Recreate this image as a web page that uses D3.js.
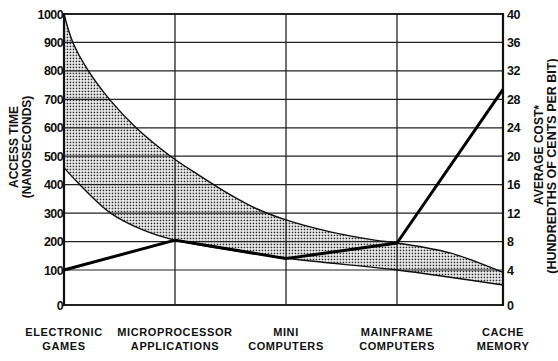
<!DOCTYPE html>
<html>
<head>
<meta charset="utf-8">
<script src="https://cdn.jsdelivr.net/npm/d3@7"></script>
<style>
body{margin:0;background:#fff}
text{font-family:"Liberation Sans",Arial,sans-serif;font-weight:bold;fill:#111}
</style>
</head>
<body>
<div id="chart"></div>
<script>
//values
var categories = [["ELECTRONIC","GAMES"],["MICROPROCESSOR","APPLICATIONS"],["MINI","COMPUTERS"],["MAINFRAME","COMPUTERS"],["CACHE","MEMORY"]]
var costValues = [4, 8.2, 5.6, 7.8, 29.4]   //hundredths of cents per bit, one per category

//access time band, position is the category index (fractions between categories)
var upperPos  = [0, 0.08, 0.22, 0.41, 0.65, 0.96, 1.225, 1.5, 1.72, 2.0, 2.4, 2.8, 3.0, 3.5, 4]
var upperTime = [1000, 900, 800, 700, 600, 500, 431, 364, 318, 276, 234, 205, 195, 160, 93]
var lowerPos  = [0, 0.13, 0.42, 0.71, 1, 2, 3, 4]
var lowerTime = [460, 405, 300, 241, 205, 142, 100, 57]

var timeTicks = [0,100,200,300,400,500,600,700,800,900,1000]
var costTicks = [0,4,8,12,16,20,24,28,32,36,40]

var w = 558, h = 361
var svg = d3.select("#chart").append("svg").attr("width", w).attr("height", h)

//x is the category index, the last gap is a bit narrower in the original
var xScale = d3.scaleLinear().domain([0,3,4]).range([64,397,503])
//the 0-100 step is drawn taller than the others
var yTime = d3.scaleLinear().domain([0,100,1000]).range([305,270,14])
var yCost = d3.scaleLinear().domain([0,4,40]).range([305,270,14])

var upper = upperPos.map(function(p,i){return [p, upperTime[i]]})
var lower = lowerPos.map(function(p,i){return [p, lowerTime[i]]})

//dotted fill
var defs = svg.append("defs")
var pat = defs.append("pattern").attr("id","dots").attr("patternUnits","userSpaceOnUse")
  .attr("width",3).attr("height",3)
pat.append("rect").attr("width",3).attr("height",3).attr("fill","#fff")
pat.append("rect").attr("x",0.6).attr("y",0.6).attr("width",1.7).attr("height",1.7).attr("fill","#333")

//clip = everything under the upper curve
var underUpper = d3.area()
  .x(function(d){return xScale(d[0])})
  .y0(yTime(0))
  .y1(function(d){return yTime(d[1])})
  .curve(d3.curveCatmullRom)
defs.append("clipPath").attr("id","clipUpper").append("path").attr("d", underUpper(upper))

//everything above the lower curve, clipped -> the band
var aboveLower = d3.area()
  .x(function(d){return xScale(d[0])})
  .y0(function(d){return yTime(d[1])})
  .y1(yTime(1000))
  .curve(d3.curveCatmullRom)
svg.append("path")
  .attr("d", aboveLower(lower))
  .attr("fill","url(#dots)")
  .attr("clip-path","url(#clipUpper)")

//horizontal grid
svg.selectAll("line.hgrid")
  .data(timeTicks)
  .enter()
  .append("line")
  .attr("class","hgrid")
  .attr("x1", xScale(0)).attr("x2", xScale(4))
  .attr("y1", function(d){return yTime(d)}).attr("y2", function(d){return yTime(d)})
  .attr("stroke","#222")
  .attr("stroke-width", function(d){return (d==0||d==1000) ? 2 : 1.2})

//vertical grid at the inner categories
svg.selectAll("line.vgrid")
  .data([1,2,3])
  .enter()
  .append("line")
  .attr("class","vgrid")
  .attr("x1", function(d){return xScale(d)}).attr("x2", function(d){return xScale(d)})
  .attr("y1", yTime(1000)).attr("y2", yTime(0))
  .attr("stroke","#222").attr("stroke-width",1.3)

//axis lines
svg.append("line").attr("x1",xScale(0)).attr("x2",xScale(0)).attr("y1",yTime(1000)-1).attr("y2",yTime(0)+1)
  .attr("stroke","#111").attr("stroke-width",2.2)
svg.append("line").attr("x1",xScale(4)).attr("x2",xScale(4)).attr("y1",yTime(1000)-1).attr("y2",yTime(0)+1)
  .attr("stroke","#111").attr("stroke-width",2.2)

//band edges
var curveLine = d3.line()
  .x(function(d){return xScale(d[0])})
  .y(function(d){return yTime(d[1])})
  .curve(d3.curveCatmullRom)
svg.append("path").attr("d", curveLine(upper)).attr("fill","none").attr("stroke","#111").attr("stroke-width",1.4)
svg.append("path").attr("d", curveLine(lower)).attr("fill","none").attr("stroke","#111").attr("stroke-width",1.4)

//cost line
var costLine = d3.line()
  .x(function(d,i){return xScale(i)})
  .y(function(d){return yCost(d)})
svg.append("path").attr("d", costLine(costValues))
  .attr("fill","none").attr("stroke","#000").attr("stroke-width",3).attr("stroke-linejoin","round")

//tick labels
svg.selectAll("text.tleft")
  .data(timeTicks)
  .enter()
  .append("text")
  .attr("class","tleft")
  .text(function(d){return d})
  .attr("x", xScale(0)-1)
  .attr("y", function(d){return yTime(d)+4.5})
  .attr("text-anchor","end")
  .attr("font-size","12.5px")
  .attr("letter-spacing","-0.6px")

svg.selectAll("text.tright")
  .data(costTicks)
  .enter()
  .append("text")
  .attr("class","tright")
  .text(function(d){return d})
  .attr("x", xScale(4)+4)
  .attr("y", function(d){return yCost(d)+4.5})
  .attr("font-size","12.5px")
  .attr("letter-spacing","-0.4px")

//category labels
var cat = svg.selectAll("text.cat")
  .data(categories)
  .enter()
  .append("text")
  .attr("class","cat")
  .attr("x", function(d,i){return xScale(i)})
  .attr("y", 336)
  .attr("text-anchor","middle")
  .attr("font-size","11px")
  .attr("letter-spacing","0.6px")
cat.append("tspan").attr("x", function(d,i){return xScale(i)}).text(function(d){return d[0]})
cat.append("tspan").attr("x", function(d,i){return xScale(i)}).attr("dy",14).text(function(d){return d[1]})

//axis titles, rotated
function title(t, x, y, size){
  svg.append("text")
    .text(t)
    .attr("transform","translate(" + x + "," + y + ") rotate(-90)")
    .attr("text-anchor","middle")
    .attr("font-size", size)
}
title("ACCESS TIME", 18, 147, "12px")
title("(NANOSECONDS)", 31, 147, "12px")
title("AVERAGE COST*", 543, 155, "12px")
title("(HUNDREDTHS OF CENTS PER BIT)", 556, 166, "12.5px")
</script>
</body>
</html>
